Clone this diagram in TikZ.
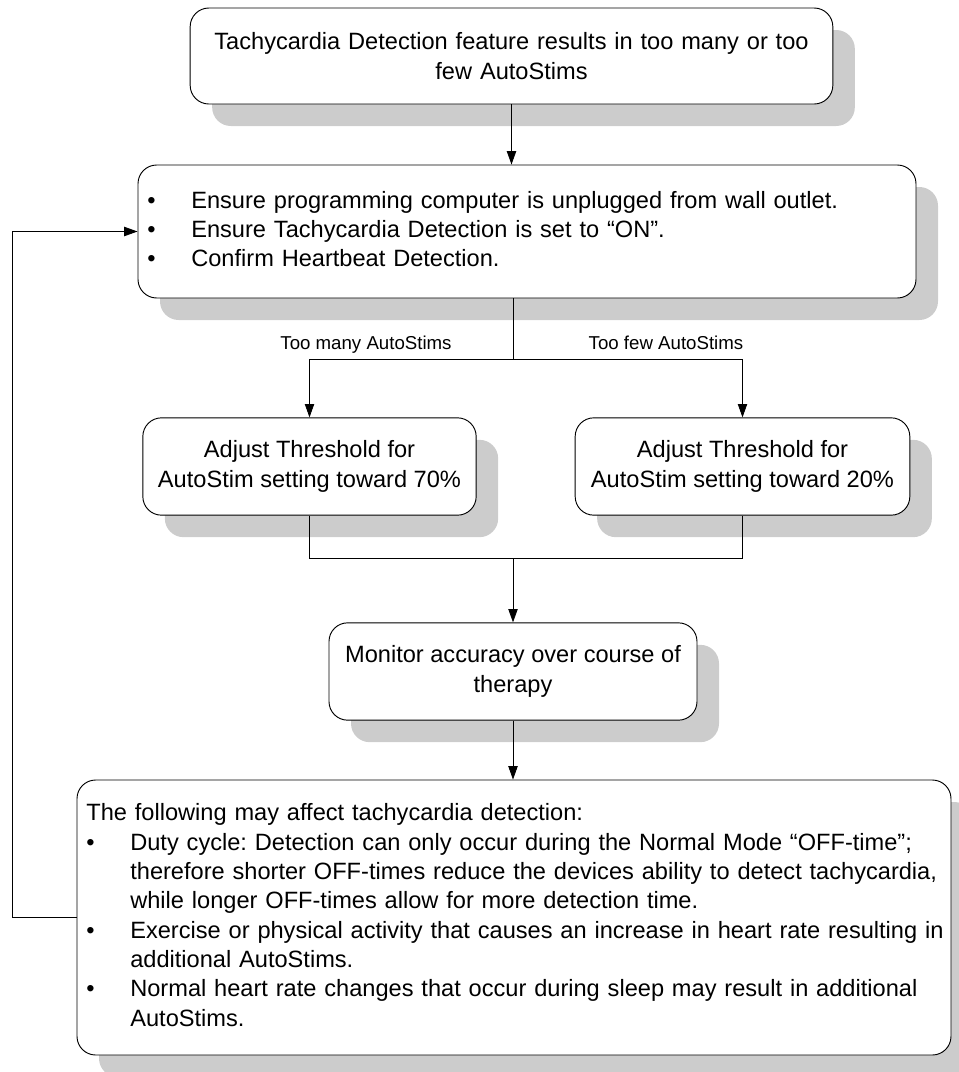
\documentclass[tikz,border=0pt]{standalone}
\usepackage{fontspec}
\setmainfont{Liberation Sans}
\usepackage{tikz}
\usetikzlibrary{
  arrows.meta,
  shadows,
  calc
}
\usepackage{xcolor}
\definecolor{shade}{HTML}{CCCCCC}
\frenchspacing

\begin{document}
\begin{tikzpicture}[
  x=0.75pt, y=-0.75pt,
  box/.style={draw, line width=0.7pt, rounded corners=14pt, fill=white,
    inner xsep=7pt, align=center, font=\fontsize{17.7}{22}\selectfont,
    drop shadow={shadow xshift=16.5pt, shadow yshift=-16.5pt, fill=shade, opacity=1}},
  lbl/.style={anchor=base, font=\fontsize{14}{16}\selectfont},
  ln/.style={line width=0.6pt},
  arr/.style={-{Triangle[length=10pt, width=7pt]}, line width=0.6pt},
]
  \useasboundingbox (0,0) rectangle (959,1072);

  % Boxes
  \node[box, minimum width=482pt, minimum height=72pt, text width=468pt] (a) at (511.5,56)
    {Tachycardia Detection feature results in too many or too\\few AutoStims};
  \node[box, minimum width=583.5pt, minimum height=99.75pt, text width=569.5pt, align=left] (b) at (527,231.5)
    {\begin{tabular}{@{}p{33pt}@{}l@{}}
      \textbullet & Ensure programming computer is unplugged from wall outlet.\\
      \textbullet & Ensure Tachycardia Detection is set to “ON”.\\
      \textbullet & Confirm Heartbeat Detection.
    \end{tabular}};
  \node[box, minimum width=250pt, minimum height=73pt] (c) at (309.5,466.5)
    {Adjust Threshold for\\AutoStim setting toward 70\%};
  \node[box, minimum width=251pt, minimum height=73pt] (d) at (742.5,466.5)
    {Adjust Threshold for\\AutoStim setting toward 20\%};
  \node[box, minimum width=276pt, minimum height=73pt] (e) at (513,671.5)
    {Monitor accuracy over course of\\therapy};
  \node[box, minimum width=655.5pt, minimum height=206.25pt, text width=641.5pt, align=left] (f) at (514,917.5)
    {\begin{tabular}{@{}p{33pt}@{}l@{}}
      \multicolumn{2}{@{}l@{}}{The following may affect tachycardia detection:}\\
      \textbullet & Duty cycle: Detection can only occur during the Normal Mode “OFF-time”;\\
       & therefore shorter OFF-times reduce the devices ability to detect tachycardia,\\
       & while longer OFF-times allow for more detection time.\\
      \textbullet & Exercise or physical activity that causes an increase in heart rate resulting in\\
       & additional AutoStims.\\
      \textbullet & Normal heart rate changes that occur during sleep may result in additional\\
       & AutoStims.
    \end{tabular}};

  % Branch labels
  \node[lbl] (many) at (366,349) {Too many AutoStims};
  \node[lbl] (few) at (666,349) {Too few AutoStims};

  % Connectors
  \coordinate (split) at (513,359);
  \coordinate (join) at (513,558);
  \draw[arr] (a.south) -- (a.south |- b.north);
  \draw[ln] (b.south -| split) -- (split);
  \draw[arr] (split) -| (c.north);
  \draw[arr] (split) -| (d.north);
  \draw[ln] (c.south) |- (join);
  \draw[ln] (d.south) |- (join);
  \draw[arr] (join) -- (join |- e.north);
  \draw[arr] (e.south) -- (e.south |- f.north);
  \draw[arr] (f.west) -- ++(-64,0) |- (b.west);
\end{tikzpicture}
\end{document}
